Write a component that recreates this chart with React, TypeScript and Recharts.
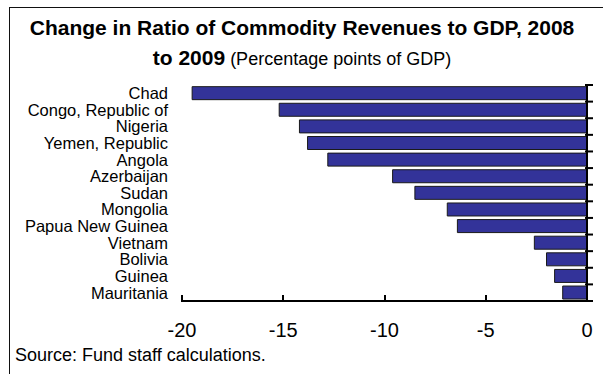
import { BarChart, Bar, XAxis, YAxis } from "recharts";

const COUNTRIES = [
  "Chad",
  "Congo, Republic of",
  "Nigeria",
  "Yemen, Republic",
  "Angola",
  "Azerbaijan",
  "Sudan",
  "Mongolia",
  "Papua New Guinea",
  "Vietnam",
  "Bolivia",
  "Guinea",
  "Mauritania",
];

// change in commodity revenues / GDP, 2008 -> 2009 (pp of GDP)
const CHANGES = [-19.5, -15.2, -14.2, -13.8, -12.8, -9.6, -8.5, -6.9, -6.4, -2.6, -2.0, -1.6, -1.2];

const X_TICKS = [-20, -15, -10, -5, 0];
const X_DOMAIN = [-20, 0];

const FONT = "'Liberation Sans', Arial, Helvetica, sans-serif";

const W = 603;
const H = 374;
const MARGIN = { top: 85, right: 6, bottom: 43, left: 0 };
const LABEL_W = 182;
const EDGE_W = 10;
const X_AXIS_H = 30;
const X_TICK_SIZE = 6;
const X_LABEL_GAP = 16;

const PLOT_LEFT = MARGIN.left + LABEL_W;
const PLOT_RIGHT = W - MARGIN.right - EDGE_W;
const PLOT_TOP = MARGIN.top;
const PLOT_BOTTOM = H - MARGIN.bottom - X_AXIS_H;
const ROW_H = (PLOT_BOTTOM - PLOT_TOP) / COUNTRIES.length;

const xPos = (v: number) =>
  PLOT_LEFT + ((v - X_DOMAIN[0]) / (X_DOMAIN[1] - X_DOMAIN[0])) * (PLOT_RIGHT - PLOT_LEFT);

function XTick(props: any) {
  const { x, y, payload } = props;
  return (
    <text x={x} y={y} dy="0.71em" textAnchor="middle" fontSize={20} fontFamily={FONT} fill="#000">
      {payload.value}
    </text>
  );
}

// tick marks on the zero line sit between the rows
function EdgeTick(props: any) {
  const { x, y, index } = props;
  const top = y - ROW_H / 2;
  return (
    <g>
      <line x1={x - 2} x2={x + 6} y1={top} y2={top} stroke="#000" strokeWidth={2} />
      {index === COUNTRIES.length - 1 && (
        <line x1={x - 2} x2={x + 6} y1={top + ROW_H} y2={top + ROW_H} stroke="#000" strokeWidth={2} />
      )}
    </g>
  );
}

export default function App() {
  const data = COUNTRIES.map((name, i) => ({ name, value: CHANGES[i] }));

  return (
    <div
      style={{
        position: "absolute",
        left: 0,
        top: 0,
        width: W,
        height: H,
        overflow: "hidden",
        background: "#fff",
        fontFamily: FONT,
      }}
    >
      <div
        style={{
          position: "absolute",
          left: 9,
          top: 7,
          width: 700,
          height: 500,
          borderTop: "1.5px solid #111",
          borderLeft: "1.5px solid #111",
        }}
      />
      <svg width={W} height={H} style={{ position: "absolute", left: 0, top: 0 }}>
        <text x={302} y={35} textAnchor="middle" fontSize={21} fontWeight="bold" fontFamily={FONT} fill="#000">
          Change in Ratio of Commodity Revenues to GDP, 2008
        </text>
        <text x={302} y={65} textAnchor="middle" fontFamily={FONT} fill="#000">
          <tspan fontSize={21} fontWeight="bold">to 2009</tspan>
          <tspan fontSize={18}> (Percentage points of GDP)</tspan>
        </text>
        <text x={15} y={361} fontSize={18} fontFamily={FONT} fill="#000">
          Source: Fund staff calculations.
        </text>
      </svg>
      <div style={{ position: "absolute", left: 0, top: 0 }}>
        <BarChart
          width={W}
          height={H}
          data={data}
          layout="vertical"
          margin={MARGIN}
          barCategoryGap="10%"
        >
          <XAxis
            type="number"
            domain={X_DOMAIN}
            ticks={X_TICKS}
            height={X_AXIS_H}
            stroke="#000"
            tickLine={false}
            tickSize={X_TICK_SIZE}
            tickMargin={X_LABEL_GAP}
            tick={<XTick />}
          />
          <YAxis
            yAxisId="cat"
            type="category"
            dataKey="name"
            width={LABEL_W}
            interval={0}
            axisLine={false}
            tickLine={false}
            tickSize={0}
            tickMargin={14}
            tick={{ fontSize: 16.5, fill: "#000", fontFamily: FONT }}
          />
          <YAxis
            yAxisId="edge"
            orientation="right"
            type="category"
            dataKey="name"
            width={EDGE_W}
            interval={0}
            stroke="#000"
            tickLine={false}
            tickSize={0}
            tickMargin={0}
            tick={<EdgeTick />}
          />
          <Bar
            yAxisId="cat"
            dataKey="value"
            fill="#333399"
            stroke="#1a1a1a"
            strokeWidth={1}
            isAnimationActive={false}
          />
        </BarChart>
      </div>
      {/* bottom axis with upward ticks and the zero line, kept on top of the chart */}
      <div
        style={{
          position: "absolute",
          left: PLOT_LEFT - 1,
          top: PLOT_BOTTOM - 1,
          width: PLOT_RIGHT - PLOT_LEFT + 2,
          height: 2,
          background: "#000",
        }}
      />
      <div
        style={{
          position: "absolute",
          left: PLOT_RIGHT - 1,
          top: PLOT_TOP,
          width: 2,
          height: PLOT_BOTTOM - PLOT_TOP,
          background: "#000",
        }}
      />
      {X_TICKS.map((t) => (
        <div
          key={t}
          style={{
            position: "absolute",
            left: xPos(t) - 1,
            top: PLOT_BOTTOM - 6,
            width: 2,
            height: 6,
            background: "#000",
          }}
        />
      ))}
    </div>
  );
}
